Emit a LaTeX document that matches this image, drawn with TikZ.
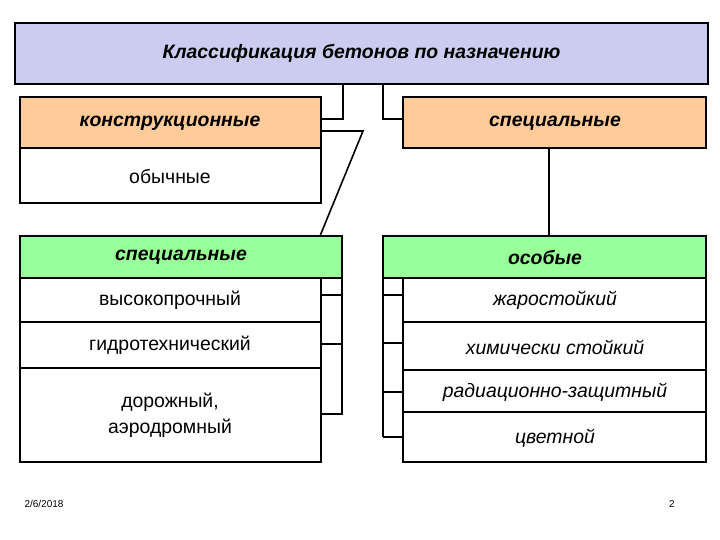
\documentclass[tikz,border=0pt]{standalone}
\usepackage{fontspec}
\setmainfont{Liberation Sans}
\begin{document}
\begin{tikzpicture}[x=1bp,y=-1bp,
  bx/.style={draw=black,line width=1.2pt},
  ln/.style={draw=black,line width=1.6pt},
  th/.style={font=\fontsize{19.5}{22}\selectfont\itshape\bfseries,align=center},
  tx/.style={font=\fontsize{19.5}{22}\selectfont\itshape,align=center},
  tn/.style={font=\fontsize{19.5}{26}\selectfont,align=center}]
\useasboundingbox (0,0) rectangle (720,540);
\definecolor{lav}{RGB}{204,204,240}
\definecolor{org}{RGB}{255,204,153}
\definecolor{grn}{RGB}{153,255,153}
\draw[bx,fill=lav] (15,23) rectangle (708,84);
\node[th] (t) at (361.5,53) {Классификация бетонов по назначению};
\draw[bx,fill=org] (20,97) rectangle (321,148);
\node[th] (k) at (170,123) {конструкционные};
\draw[bx] (20,148) rectangle (321,203);
\node[tn] (o) at (170,176) {обычные};
\draw[bx,fill=org] (403,97) rectangle (706,148);
\node[th] (s) at (555,123) {специальные};
\draw[bx,fill=grn] (20,236) rectangle (342,278);
\node[th] (s2) at (181,257) {специальные};
\draw[bx,fill=grn] (383,236) rectangle (706,278);
\node[th] (os) at (545,257) {особые};
\draw[bx] (20,278) rectangle (321,322);
\node[tn] (a1) at (170,300) {высокопрочный};
\draw[bx] (20,322) rectangle (321,368);
\node[tn] (a2) at (170,345) {гидротехнический};
\draw[bx] (20,368) rectangle (321,462);
\node[tn] (a3) at (170,415) {дорожный,\\аэродромный};
\draw[bx] (403,278) rectangle (706,322);
\node[tx] (b1) at (555,300) {жаростойкий};
\draw[bx] (403,322) rectangle (706,370);
\node[tx] (b2) at (555,347) {химически стойкий};
\draw[bx] (403,370) rectangle (706,412);
\node[tx] (b3) at (555,392) {радиационно-защитный};
\draw[bx] (403,412) rectangle (706,462);
\node[tx] (b4) at (555,438) {цветной};
\draw[ln] (343,84) -- (343,119) -- (321,119);
\draw[ln] (383,84) -- (383,119) -- (403,119);
\draw[ln] (321,131) -- (363,131) -- (320,236);
\draw[ln] (549,148) -- (549,236);
\draw[ln] (342,278) -- (342,415);
\draw[ln] (321,295) -- (342,295) (321,344) -- (342,344) (321,414) -- (342,414);
\draw[ln] (383,278) -- (383,437);
\draw[ln] (383,295) -- (403,295) (383,343) -- (403,343) (383,392) -- (403,392) (383,437) -- (403,437);
\node[font=\fontsize{10}{12}\selectfont] (d) at (44,504) {2/6/2018};
\node[font=\fontsize{10}{12}\selectfont] (p) at (672,504) {2};
\end{tikzpicture}
\end{document}
